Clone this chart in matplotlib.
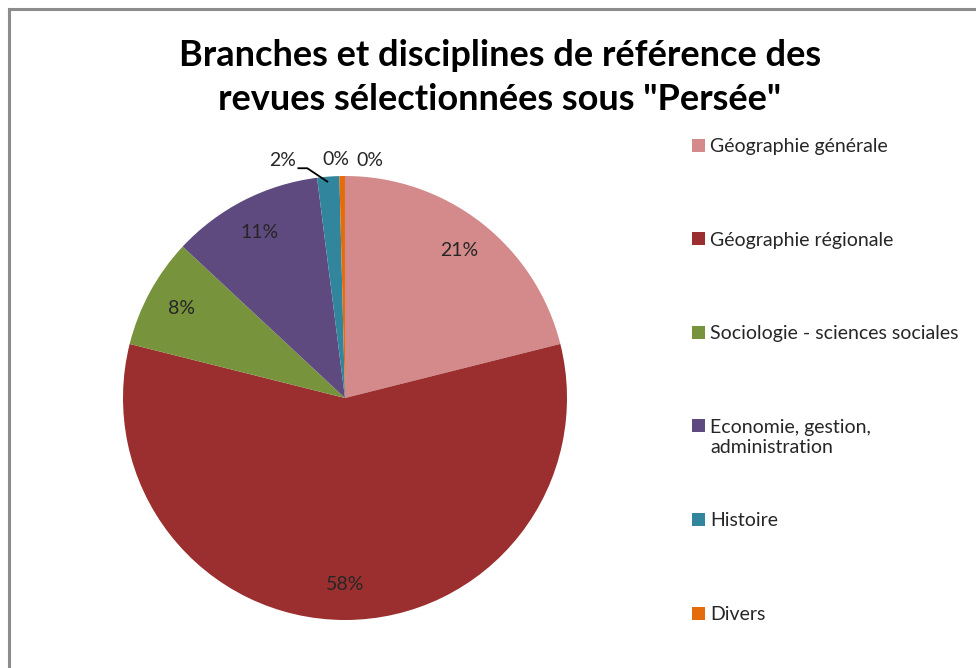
"""
Pie chart: branches et disciplines de référence des revues sélectionnées sous "Persée".
"""
import numpy as np
import matplotlib.pyplot as plt
from matplotlib.patches import Rectangle
from matplotlib.lines import Line2D

# Data (shares in %)
categories = ["Géographie générale", "Géographie régionale",
              "Sociologie - sciences sociales",
              "Economie, gestion,\nadministration", "Histoire", "Divers", ""]
values = [21.0, 57.6, 8.0, 11.0, 1.6, 0.4, 0.001]
colors = ["#D48A8A", "#9B2F2F", "#77933C", "#5F4A7F", "#31859C", "#E46C0A", "#F2DCDB"]
pct_labels = ["21%", "58%", "8%", "11%", "2%", "0%", "0%"]

FONT = ["Lato", "DejaVu Sans"]
plt.rcParams["font.family"] = FONT

W, H = 976, 668
fig = plt.figure(figsize=(W / 100, H / 100), dpi=100)

# frame lines (chart border, only top and left visible)
fig.add_artist(Line2D([9 / W, 9 / W], [0, 1 - 9 / H], color="#8c8c8c", lw=2.2))
fig.add_artist(Line2D([9 / W, 1], [1 - 9 / H, 1 - 9 / H], color="#8c8c8c", lw=2.2))

# pie axes: centre ~ (345, 398) px, radius ~ 222 px
cx, cy, r = 345, 398, 222
ax = fig.add_axes([(cx - r) / W, 1 - (cy + r) / H, 2 * r / W, 2 * r / H])
wedges, _ = ax.pie(values, colors=colors, startangle=90, counterclock=False,
                   radius=1.0, wedgeprops=dict(linewidth=0))
ax.set_xlim(-1, 1)
ax.set_ylim(-1, 1)
ax.set_aspect("equal")
ax.axis("off")

# percentage labels inside the wedges, the small ones outside
outside = {4: (-0.28, 1.07), 5: (-0.04, 1.075), 6: (0.11, 1.07)}
for i, (w, lab) in enumerate(zip(wedges, pct_labels)):
    mid = np.deg2rad((w.theta1 + w.theta2) / 2)
    if i in outside:
        x, y = outside[i]
    else:
        x, y = 0.84 * np.cos(mid), 0.84 * np.sin(mid)
    ax.text(x, y, lab, ha="center", va="center", fontsize=14, color="#262626",
            clip_on=False)

# leader line for the 2% label
ax.plot([-0.21, -0.17, -0.08], [1.035, 1.035, 0.975],
        color="black", lw=1.3, clip_on=False)

# title
fig.text(500 / W, 1 - 56 / H, "Branches et disciplines de référence des",
         ha="center", va="center", fontsize=26, fontweight="bold", color="black")
fig.text(500 / W, 1 - 100 / H, 'revues sélectionnées sous "Persée"',
         ha="center", va="center", fontsize=26, fontweight="bold", color="black")

# legend (drawn by hand to keep Excel-like row spacing)
y0, step = 145, 93.6
for i, (lab, col) in enumerate(zip(categories[:6], colors[:6])):
    y = y0 + i * step
    fig.add_artist(Rectangle((692 / W, 1 - (y + 6.5) / H), 13 / W, 13 / H,
                             facecolor=col, edgecolor="none"))
    fig.text(710 / W, 1 - (y - 7) / H, lab, ha="left", va="top",
             fontsize=14, color="#262626", linespacing=1.2)

fig.savefig("out.png", dpi=100)
